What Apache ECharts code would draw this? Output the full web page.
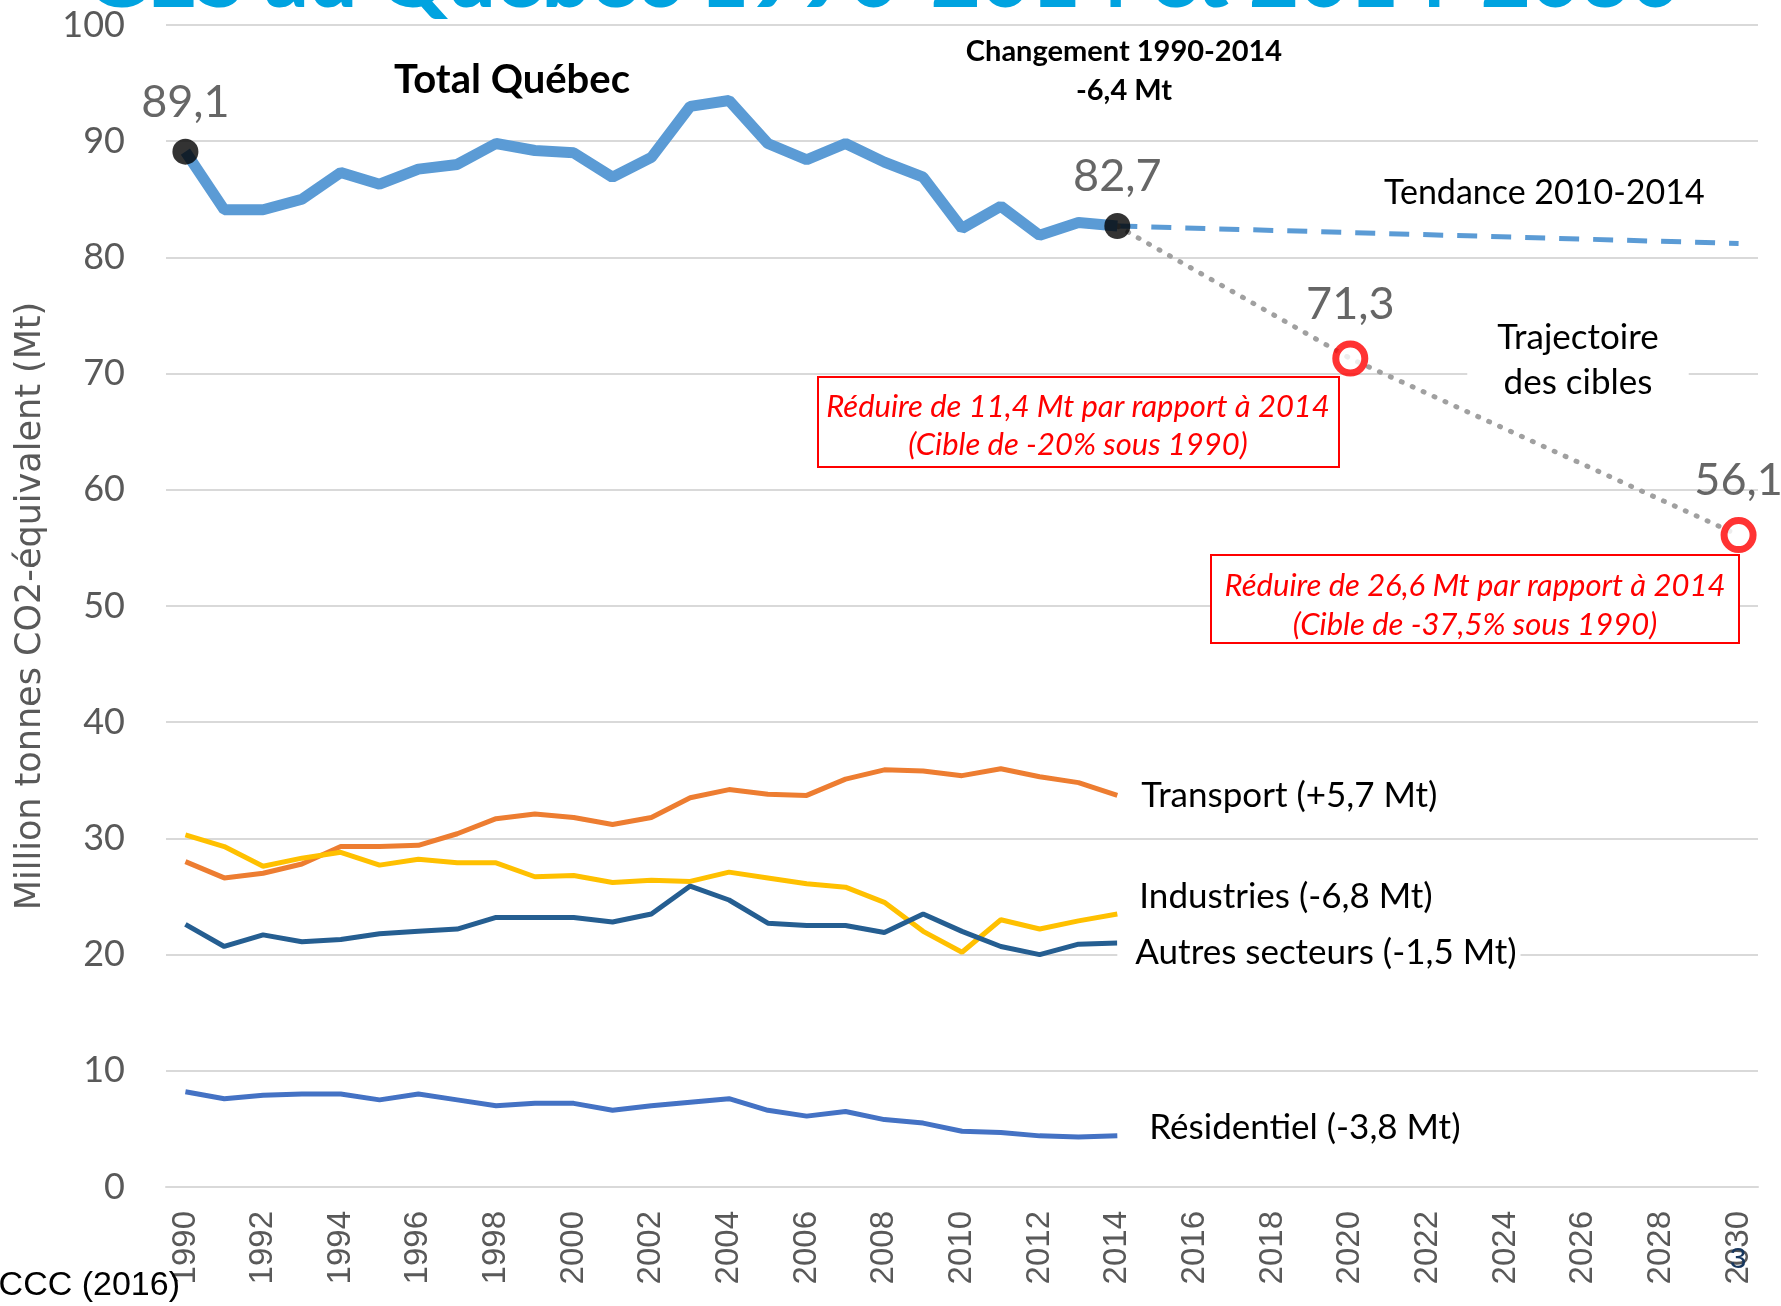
<!DOCTYPE html>
<html>
<head>
<meta charset="utf-8">
<script src="https://cdn.jsdelivr.net/npm/echarts@6/dist/echarts.min.js"></script>
<style>
  html, body { margin: 0; padding: 0; background: #fff; }
  #chart { width: 1781px; height: 1306px; }
</style>
</head>
<body>
<div id="chart"></div>
<script>
const years = ['1990', '1991', '1992', '1993', '1994', '1995', '1996', '1997', '1998', '1999',
  '2000', '2001', '2002', '2003', '2004', '2005', '2006', '2007', '2008', '2009',
  '2010', '2011', '2012', '2013', '2014', '2015', '2016', '2017', '2018', '2019',
  '2020', '2021', '2022', '2023', '2024', '2025', '2026', '2027', '2028', '2029', '2030']

// Mt CO2 eq, 1990-2014
const totalQuebec = [89.1, 84.1, 84.1, 85.0, 87.3, 86.3, 87.6, 88.0, 89.8, 89.2,
  89.0, 86.9, 88.6, 93.0, 93.5, 89.8, 88.4, 89.8, 88.2, 86.9,
  82.5, 84.4, 81.9, 83.0, 82.7]
const transport = [28.0, 26.6, 27.0, 27.8, 29.3, 29.3, 29.4, 30.4, 31.7, 32.1,
  31.8, 31.2, 31.8, 33.5, 34.2, 33.8, 33.7, 35.1, 35.9, 35.8,
  35.4, 36.0, 35.3, 34.8, 33.7]
const industries = [30.3, 29.3, 27.6, 28.3, 28.8, 27.7, 28.2, 27.9, 27.9, 26.7,
  26.8, 26.2, 26.4, 26.3, 27.1, 26.6, 26.1, 25.8, 24.5, 22.0,
  20.2, 23.0, 22.2, 22.9, 23.5]
const autresSecteurs = [22.6, 20.7, 21.7, 21.1, 21.3, 21.8, 22.0, 22.2, 23.2, 23.2,
  23.2, 22.8, 23.5, 25.9, 24.7, 22.7, 22.5, 22.5, 21.9, 23.5,
  22.0, 20.7, 20.0, 20.9, 21.0]
const residentiel = [8.2, 7.6, 7.9, 8.0, 8.0, 7.5, 8.0, 7.5, 7.0, 7.2,
  7.2, 6.6, 7.0, 7.3, 7.6, 6.6, 6.1, 6.5, 5.8, 5.5,
  4.8, 4.7, 4.4, 4.3, 4.4]

const tendance = [['2014', 82.7], ['2030', 81.2]]
const trajectoire = [['2014', 82.7], ['2020', 71.3], ['2030', 56.1]]
const pointsHistoriques = [['1990', 89.1], ['2014', 82.7]]
const cibles = [['2020', 71.3], ['2030', 56.1]]

const FONT = 'Lato, "Noto Sans", sans-serif'
const fmt = p => String(p.value[1]).replace('.', ',')

const sectorLine = (name, data, color, label, offset, extra) => ({
  name,
  type: 'line',
  data,
  symbol: 'none',
  z: 3,
  lineStyle: { color, width: 5 },
  endLabel: Object.assign({
    show: true,
    formatter: label,
    color: '#000',
    fontFamily: FONT,
    fontSize: 35,
    distance: 24,
    offset
  }, extra || {})
})

const chart = echarts.init(document.getElementById('chart'))

chart.setOption({
  animation: false,
  grid: { left: 166, right: 23, top: 25, bottom: 119, containLabel: false },
  xAxis: {
    type: 'category',
    data: years,
    boundaryGap: true,
    axisTick: { show: false },
    axisLine: { show: true, lineStyle: { color: '#D9D9D9', width: 2 } },
    axisLabel: {
      interval: 1,
      rotate: 90,
      margin: 24,
      color: '#595959',
      fontFamily: '"Liberation Sans", Arial, sans-serif',
      fontSize: 33
    }
  },
  yAxis: {
    type: 'value',
    min: 0,
    max: 100,
    interval: 10,
    name: 'Million tonnes CO2-équivalent (Mt)',
    nameLocation: 'middle',
    nameGap: 118,
    nameTextStyle: { color: '#595959', fontFamily: '"DejaVu Sans", sans-serif', fontSize: 35 },
    axisLine: { show: false },
    axisTick: { show: false },
    axisLabel: { color: '#595959', fontFamily: FONT, fontSize: 36, margin: 41 },
    splitLine: { lineStyle: { color: '#D9D9D9', width: 2 } }
  },
  series: [
    {
      name: 'Tendance 2010-2014',
      type: 'line',
      data: tendance,
      symbol: 'none',
      z: 2,
      lineStyle: { color: '#5B9BD5', width: 5, type: [20, 14] }
    },
    {
      name: 'Trajectoire des cibles',
      type: 'line',
      data: trajectoire,
      symbol: 'none',
      z: 2,
      lineStyle: { color: '#A0A0A0', width: 5, type: [1, 11], cap: 'round' }
    },
    {
      name: 'Total Québec',
      type: 'line',
      data: totalQuebec,
      symbol: 'none',
      z: 3,
      lineStyle: { color: '#5B9BD5', width: 11 }
    },
    sectorLine('Transport', transport, '#ED7D31', 'Transport (+5,7 Mt)', [0, 0]),
    sectorLine('Industries', industries, '#FFC000', 'Industries (-6,8 Mt)', [-2, -17]),
    sectorLine('Autres secteurs', autresSecteurs, '#255E91', 'Autres secteurs (-1,5 Mt)', [0, 10],
      { distance: 0, backgroundColor: '#fff', padding: [2, 4, 2, 18] }),
    sectorLine('Résidentiel', residentiel, '#4472C4', 'Résidentiel (-3,8 Mt)', [8, -8]),
    {
      type: 'scatter',
      data: pointsHistoriques,
      symbol: 'circle',
      symbolSize: 26,
      z: 5,
      itemStyle: { color: '#000' },
      label: { show: true, position: 'top', distance: 14, formatter: fmt, color: '#404040', fontFamily: FONT, fontSize: 45 }
    },
    {
      type: 'scatter',
      data: cibles,
      symbol: 'circle',
      symbolSize: 29,
      z: 5,
      itemStyle: { color: '#fff', borderColor: '#FF0000', borderWidth: 7 },
      label: { show: true, position: 'top', distance: 14, formatter: fmt, color: '#404040', fontFamily: FONT, fontSize: 45 }
    }
  ],
  graphic: [
    {
      type: 'text', x: 85, y: 22, z: 10,
      style: {
        text: 'GES au Québec 1990-2014 et 2014-2030',
        fill: '#00A3E0', fontFamily: FONT, fontWeight: 900, fontSize: 86,
        align: 'left', textAlign: 'left', verticalAlign: 'bottom', textVerticalAlign: 'bottom'
      }
    },
    {
      type: 'text', x: 512, y: 80, z: 10,
      style: {
        text: 'Total Québec', fill: '#000', fontFamily: FONT, fontWeight: 'bold', fontSize: 40,
        align: 'center', textAlign: 'center', verticalAlign: 'middle', textVerticalAlign: 'middle'
      }
    },
    {
      type: 'text', x: 1124, y: 71, z: 10,
      style: {
        text: 'Changement 1990-2014\n-6,4 Mt', fill: '#000', fontFamily: FONT, fontWeight: 'bold', fontSize: 29,
        lineHeight: 39,
        align: 'center', textAlign: 'center', verticalAlign: 'middle', textVerticalAlign: 'middle'
      }
    },
    {
      type: 'text', x: 1384, y: 193, z: 10,
      style: {
        text: 'Tendance 2010-2014', fill: '#000', fontFamily: FONT, fontSize: 34,
        align: 'left', textAlign: 'left', verticalAlign: 'middle', textVerticalAlign: 'middle'
      }
    },
    {
      type: 'text', x: 1578, y: 360, z: 1,
      style: {
        text: 'Trajectoire\ndes cibles', fill: '#000', fontFamily: FONT, fontSize: 35,
        lineHeight: 45, backgroundColor: '#fff', padding: [0, 30],
        align: 'center', textAlign: 'center', verticalAlign: 'middle', textVerticalAlign: 'middle'
      }
    },
    {
      type: 'rect', z: 1,
      shape: { x: 818, y: 377, width: 521, height: 90 },
      style: { fill: '#fff', stroke: '#FF0000', lineWidth: 2 }
    },
    {
      type: 'text', x: 1078, y: 426, z: 1,
      style: {
        text: 'Réduire de 11,4 Mt par rapport à 2014\n(Cible de -20% sous 1990)',
        fill: '#FF0000', fontFamily: FONT, fontStyle: 'italic', fontSize: 31, lineHeight: 38,
        align: 'center', textAlign: 'center', verticalAlign: 'middle', textVerticalAlign: 'middle'
      }
    },
    {
      type: 'rect', z: 1,
      shape: { x: 1211, y: 555, width: 528, height: 88 },
      style: { fill: '#fff', stroke: '#FF0000', lineWidth: 2 }
    },
    {
      type: 'text', x: 1475, y: 605, z: 1,
      style: {
        text: 'Réduire de 26,6 Mt par rapport à 2014\n(Cible de -37,5% sous 1990)',
        fill: '#FF0000', fontFamily: FONT, fontStyle: 'italic', fontSize: 31, lineHeight: 39,
        align: 'center', textAlign: 'center', verticalAlign: 'middle', textVerticalAlign: 'middle'
      }
    },
    {
      type: 'text', x: 180, y: 1286, z: 10,
      style: {
        text: 'ECCC (2016)', fill: '#000', fontFamily: '"Liberation Sans", Arial, sans-serif', fontSize: 34,
        align: 'right', textAlign: 'right', verticalAlign: 'middle', textVerticalAlign: 'middle'
      }
    },
    {
      type: 'text', x: 1738, y: 1260, z: 10,
      style: {
        text: '3', fill: '#17375E', fontFamily: '"Liberation Sans", Arial, sans-serif', fontSize: 30,
        align: 'center', textAlign: 'center', verticalAlign: 'middle', textVerticalAlign: 'middle'
      }
    }
  ]
})
</script>
</body>
</html>
